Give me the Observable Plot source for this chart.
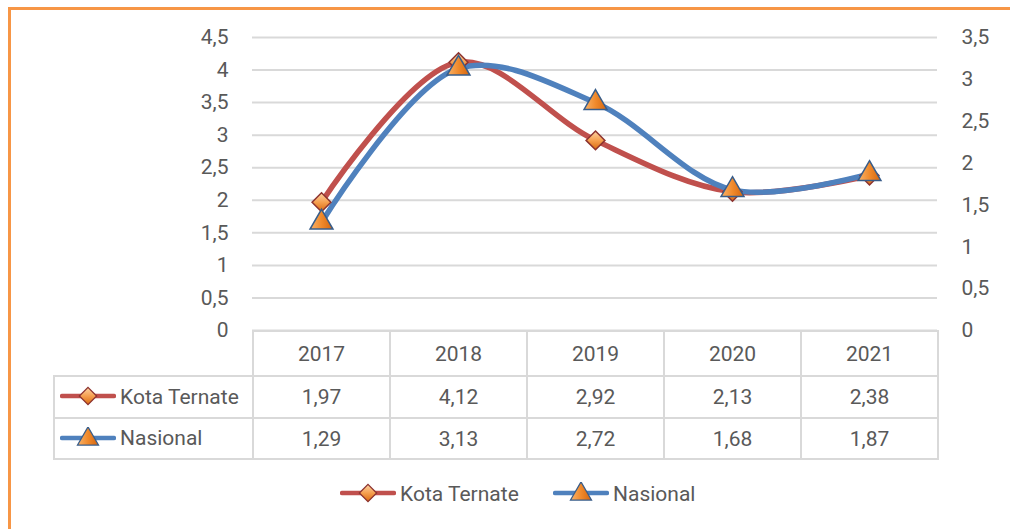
<!DOCTYPE html>
<html>
<head>
<meta charset="utf-8">
<script src="https://cdn.jsdelivr.net/npm/d3@7"></script>
<script src="https://cdn.jsdelivr.net/npm/@observablehq/plot@0.6"></script>
<style>
  html, body { margin: 0; padding: 0; background: #fff; overflow: hidden; }
  #wrap { position: relative; width: 1010px; height: 529px; overflow: hidden; font-family: Roboto, sans-serif; color: #595959; }
  #frame { position: absolute; left: 8px; top: 7px; width: 1100px; height: 700px; border: 3px solid #F79646; box-sizing: border-box; }
  #chart { position: absolute; left: 0; top: 0; }
  #tbl { position: absolute; left: 53px; top: 330px; border-collapse: collapse; table-layout: fixed; font-size: 21px; color: #595959; }
  #tbl td { border: 2px solid #D9D9D9; padding: 0; text-align: center; vertical-align: middle; white-space: nowrap; }
  #tbl td.corner { border-top-style: hidden; border-left-style: hidden; }
  #tbl td.lab { text-align: left; padding-left: 5px; }
  .ico { vertical-align: middle; margin-right: 4px; position: relative; top: -2px; }
  .leg { position: absolute; top: 481px; font-size: 21px; color: #595959; white-space: nowrap; line-height: 26px; }
</style>
</head>
<body>
<div id="wrap">
  <div id="frame"></div>
  <div id="chart"></div>
</div>
<script>
// ---- data ----
const years = ["2017", "2018", "2019", "2020", "2021"];
const kotaTernate = [1.97, 4.12, 2.92, 2.13, 2.38];
const nasional = [1.29, 3.13, 2.72, 1.68, 1.87];
const seriesNames = ["Kota Ternate", "Nasional"];
const leftTicks = [0, 0.5, 1, 1.5, 2, 2.5, 3, 3.5, 4, 4.5];
const rightTicks = [0, 0.5, 1, 1.5, 2, 2.5, 3, 3.5];
const leftMax = 4.5;
const rightMax = 3.5;

// ---- helpers ----
const k = leftMax / rightMax; // map right-axis values onto the left scale
const fmt = d => String(d).replace(".", ",");
const rows = years.map((year, i) => ({year, kota: kotaTernate[i], nas: nasional[i]}));
const RED = "#C0504D", BLUE = "#4F81BD", RED_EDGE = "#8C3330", BLUE_EDGE = "#385D8A";

const chart = Plot.plot({
  width: 1010,
  height: 345,
  marginTop: 37,
  marginBottom: 15,
  marginLeft: 252,
  marginRight: 73,
  style: {fontFamily: "Roboto, sans-serif", fontSize: "21px", color: "#595959", background: "transparent", overflow: "visible"},
  x: {type: "point", domain: years, padding: 0.5, axis: null},
  y: {domain: [0, leftMax]},
  marks: [
    Plot.gridY(leftTicks, {stroke: "#D9D9D9", strokeOpacity: 1, strokeWidth: 2}),
    Plot.axisY(leftTicks, {anchor: "left", tickSize: 0, tickPadding: 24, tickFormat: fmt, label: null}),
    Plot.axisY(rightTicks.map(d => d * k), {anchor: "right", tickSize: 0, tickPadding: 24,
      tickFormat: v => fmt(Math.round(v / k * 10) / 10), label: null}),
    Plot.line(rows, {x: "year", y: "kota", curve: "catmull-rom", stroke: RED, strokeWidth: 5.5}),
    Plot.line(rows, {x: "year", y: d => d.nas * k, curve: "catmull-rom", stroke: BLUE, strokeWidth: 5.5}),
    Plot.dot(rows, {x: "year", y: "kota", symbol: "diamond2", r: 8.5, fill: "url(#gOrange)", stroke: RED_EDGE, strokeWidth: 1.5}),
    Plot.dot(rows, {x: "year", y: d => d.nas * k, symbol: "triangle", r: 8.5, fill: "url(#gOrange2)", stroke: BLUE_EDGE, strokeWidth: 1.5})
  ]
});

d3.select(chart).insert("defs", ":first-child").html(`
  <linearGradient id="gOrange" x1="0" y1="0" x2="0" y2="1">
    <stop offset="0" stop-color="#FCD3A6"/>
    <stop offset="0.5" stop-color="#F6A050"/>
    <stop offset="1" stop-color="#D9690F"/>
  </linearGradient>
  <linearGradient id="gOrange2" x1="0" y1="0" x2="1" y2="0">
    <stop offset="0" stop-color="#F9B36A"/>
    <stop offset="0.5" stop-color="#F08A2C"/>
    <stop offset="1" stop-color="#D4650E"/>
  </linearGradient>`);
document.getElementById("chart").appendChild(chart);

// ---- legend icons ----
function icon(series, w, h, size) {
  const line = series === 0 ? RED : BLUE;
  const edge = series === 0 ? RED_EDGE : BLUE_EDGE;
  const sym = series === 0 ? d3.symbolDiamond2 : d3.symbolTriangle;
  const path = d3.symbol(sym, size)();
  return `<svg class="ico" width="${w}" height="${h}" viewBox="0 0 ${w} ${h}">
    <line x1="2" x2="${w - 2}" y1="${h / 2}" y2="${h / 2}" stroke="${line}" stroke-width="4.5" stroke-linecap="round"/>
    <path d="${path}" transform="translate(${w / 2},${h / 2 + (series === 1 ? 1 : 0)})" fill="url(#${series === 0 ? "gOrange" : "gOrange2"})" stroke="${edge}" stroke-width="1.3"/>
  </svg>`;
}

// ---- data table ----
const tbl = document.createElement("table");
tbl.id = "tbl";
let html = `<colgroup><col style="width:199px">${years.map(() => '<col style="width:137px">').join("")}</colgroup>`;
html += `<tr style="height:45px"><td class="corner"></td>${years.map(y => `<td>${y}</td>`).join("")}</tr>`;
[kotaTernate, nasional].forEach((vals, s) => {
  html += `<tr style="height:${s === 0 ? 42 : 41}px"><td class="lab">${icon(s, 56, 22, 190)}${seriesNames[s]}</td>${vals.map(v => `<td>${fmt(v)}</td>`).join("")}</tr>`;
});
tbl.innerHTML = html;
document.getElementById("wrap").appendChild(tbl);

// ---- bottom legend ----
[340, 553].forEach((left, s) => {
  const d = document.createElement("div");
  d.className = "leg";
  d.style.left = left + "px";
  d.innerHTML = `${icon(s, 56, 22, 190)}${seriesNames[s]}`;
  document.getElementById("wrap").appendChild(d);
});
</script>
</body>
</html>
